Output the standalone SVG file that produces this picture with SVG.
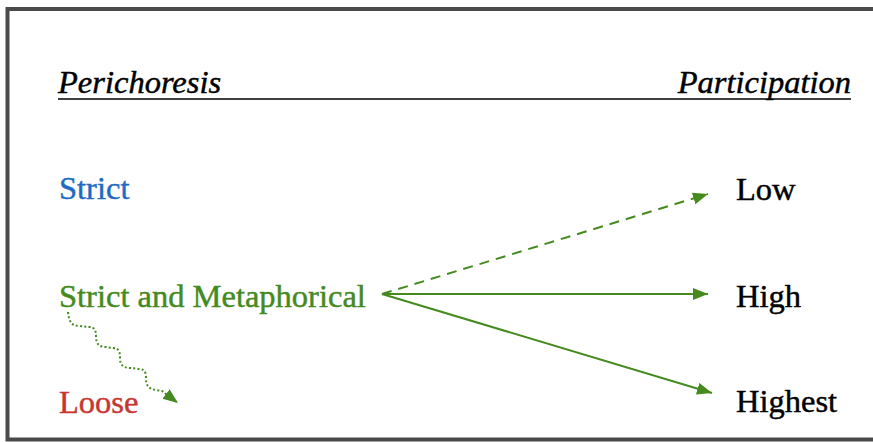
<svg xmlns="http://www.w3.org/2000/svg" width="873" height="442" viewBox="0 0 873 442">
<style>
  .t { font-family: "Liberation Serif", "Times New Roman", serif; font-size: 32.5px; stroke-width: 0.45px; }
  .it { font-style: italic; fill: #000; stroke: #000; }
  .blk { fill: #000; stroke: #000; }
  .blue { fill: #1f6bc3; stroke: #1f6bc3; }
  .green { fill: #458a1f; stroke: #458a1f; }
  .red { fill: #c7372f; stroke: #c7372f; }
  .con { fill: none; stroke: #458a1f; stroke-width: 2; }
</style>
<defs>
  <marker id="ah" markerUnits="userSpaceOnUse" markerWidth="16" markerHeight="13" refX="15" refY="6" orient="auto">
    <path d="M0,0 L15,6 L0,12 z" fill="#458a1f"/>
  </marker>
</defs>
<rect x="0" y="0" width="873" height="442" fill="#fff"/>
<path d="M880,9 H7.5 V439.5 H880" fill="none" stroke="#4a4a4a" stroke-width="4"/>
<line x1="58" y1="99" x2="851" y2="99" stroke="#000" stroke-width="1.3"/>
<g id="header-left"><text class="t it" x="58" y="93">Perichoresis</text></g>
<g id="header-right"><text class="t it" x="851" y="93" text-anchor="end">Participation</text></g>
<g id="strict"><text class="t blue" x="59" y="199">Strict</text></g>
<g id="strict-metaphorical"><text class="t green" x="59" y="306.5">Strict and Metaphorical</text></g>
<g id="loose"><text class="t red" x="59" y="412.5">Loose</text></g>
<g id="low"><text class="t blk" x="736" y="200">Low</text></g>
<g id="high"><text class="t blk" x="736" y="306.5">High</text></g>
<g id="highest"><text class="t blk" x="736" y="412">Highest</text></g>
<g id="connectors">
  <line class="con" x1="382" y1="294" x2="708" y2="194" stroke-dasharray="10 7" marker-end="url(#ah)"/>
  <line class="con" x1="382" y1="294" x2="708" y2="294" marker-end="url(#ah)"/>
  <line class="con" x1="382" y1="294" x2="712" y2="393" marker-end="url(#ah)"/>
  <path class="con" d="M68,312 C69,321 71,326 80,326 L89,327 C95,327 96,331 96,336 C96,344 99,347 106,347 L113,348 C119,348 120,352 120,358 C120,365 123,368 131,368 L139,369 C145,369 146,373 146,378 C146,386 149,389 156,390 L162,391 L178,403" stroke-dasharray="2 2.2" marker-end="url(#ah)"/>
</g>
</svg>
